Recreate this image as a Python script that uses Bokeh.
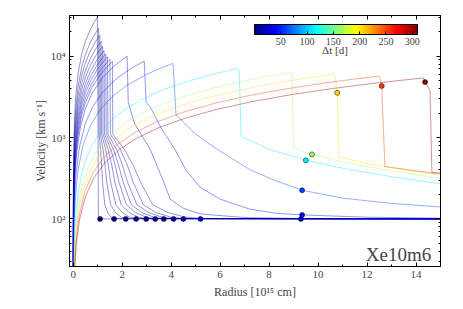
from bokeh.plotting import figure
from bokeh.models import (LinearColorMapper, ColorBar, LinearAxis, LogAxis, FixedTicker,
                          CustomJSTickFormatter, Label, Range1d, SingleIntervalTicker, LogTicker)
from bokeh.embed import file_html
from bokeh.resources import INLINE

# ---- data ----
dt_days = [3.8, 5.5, 7.0, 8.7, 10.5, 12.5, 14.5, 16.5, 19.0, 21.5, 25.5, 38.6, 58.0,
           110.0, 163.0, 205.0, 254.0, 306.0]

r_01 = [0.001, 0.003, 0.01, 0.03, 0.06, 0.1, 0.2, 0.35, 0.5, 0.7, 0.85, 0.99, 1.01, 1.03, 1.1, 15.0]
v_01 = [30, 91, 305, 914, 1830, 3050, 6090, 10660, 15230, 21320, 25890, 30150, 3000, 100, 100, 100]

r_02 = [0.0012, 0.003, 0.01, 0.03, 0.06, 0.1, 0.2, 0.35, 0.5, 0.7, 0.85, 1.04, 1.06, 1.12, 1.16, 1.2, 1.29, 1.41, 1.55, 1.67, 15.0]
v_02 = [25, 63, 210, 631, 1263, 2104, 4209, 7365, 10520, 14730, 17890, 21890, 1100, 710, 450, 283, 150, 120, 105, 101, 100]

r_03 = [0.0015, 0.003, 0.01, 0.03, 0.06, 0.1, 0.2, 0.35, 0.5, 0.7, 0.9, 1.09, 1.11, 1.22, 1.30, 1.37, 1.53, 1.72, 1.96, 2.15, 15.0]
v_03 = [25, 50, 165, 496, 992, 1653, 3307, 5787, 8267, 11570, 14880, 18020, 1100, 710, 450, 283, 150, 120, 105, 101, 100]

r_04 = [0.0019, 0.005, 0.01, 0.03, 0.06, 0.1, 0.2, 0.35, 0.5, 0.7, 0.9, 1.14, 1.16, 1.33, 1.44, 1.53, 1.74, 2.0, 2.31, 2.57, 15.0]
v_04 = [25, 67, 133, 399, 798, 1330, 2661, 4656, 6652, 9313, 11970, 15170, 1100, 710, 450, 283, 150, 120, 105, 101, 100]

r_05 = [0.0023, 0.005, 0.01, 0.03, 0.06, 0.1, 0.2, 0.35, 0.5, 0.7, 0.95, 1.2, 1.22, 1.43, 1.58, 1.7, 1.96, 2.28, 2.66, 2.98, 15.0]
v_05 = [25, 55, 110, 331, 661, 1102, 2205, 3858, 5512, 7716, 10470, 13230, 1100, 710, 450, 283, 150, 120, 105, 101, 100]

r_06 = [0.0027, 0.006, 0.01, 0.03, 0.06, 0.1, 0.2, 0.35, 0.5, 0.7, 0.95, 1.26, 1.28, 1.54, 1.72, 1.87, 2.17, 2.54, 2.98, 3.35, 15.0]
v_06 = [25, 56, 93, 278, 556, 926, 1852, 3241, 4630, 6481, 8796, 11670, 1100, 710, 450, 283, 150, 120, 105, 101, 100]

r_07 = [0.0031, 0.006, 0.01, 0.03, 0.06, 0.1, 0.2, 0.35, 0.5, 0.7, 1.0, 1.33, 1.35, 1.65, 1.86, 2.04, 2.37, 2.79, 3.29, 3.7, 15.0]
v_07 = [25, 48, 80, 239, 479, 798, 1596, 2794, 3991, 5587, 7982, 10620, 1100, 710, 450, 283, 150, 120, 105, 101, 100]

r_08 = [0.0036, 0.007, 0.015, 0.03, 0.06, 0.1, 0.2, 0.35, 0.5, 0.7, 1.0, 1.4, 1.42, 1.78, 2.02, 2.22, 2.6, 3.07, 3.63, 4.1, 15.0]
v_08 = [25, 49, 105, 210, 421, 702, 1403, 2455, 3508, 4911, 7015, 9821, 1100, 710, 450, 283, 150, 120, 105, 101, 100]

r_09 = [0.0041, 0.008, 0.015, 0.03, 0.06, 0.1, 0.2, 0.35, 0.5, 0.75, 1.05, 1.5, 1.52, 1.93, 2.22, 2.45, 2.86, 3.37, 3.99, 4.5, 15.0]
v_09 = [25, 49, 91, 183, 366, 609, 1218, 2132, 3046, 4569, 6397, 9138, 1100, 710, 450, 283, 150, 120, 105, 101, 100]

r_10 = [0.0046, 0.009, 0.015, 0.03, 0.06, 0.1, 0.2, 0.35, 0.5, 0.75, 1.1, 1.6, 1.62, 2.1, 2.46, 2.75, 3.24, 3.85, 4.59, 5.2, 15.0]
v_10 = [25, 48, 81, 161, 323, 538, 1077, 1884, 2692, 4037, 5921, 8613, 1100, 710, 450, 283, 150, 120, 105, 101, 100]

r_11 = [0.0055, 0.01, 0.02, 0.04, 0.08, 0.15, 0.3, 0.5, 0.8, 1.2, 1.7, 2.2, 2.25, 2.5, 3.15, 3.7, 3.96, 4.5, 5.2, 7.0, 9.3, 15.0]
v_11 = [25, 45, 91, 182, 363, 681, 1362, 2270, 3631, 5447, 7716, 9986, 2700, 1500, 710, 283, 175, 135, 115, 104, 101, 100]

r_12 = [0.008, 0.015, 0.03, 0.06, 0.12, 0.25, 0.5, 0.8, 1.2, 1.7, 2.3, 2.9, 2.98, 3.14, 3.6, 4.16, 4.6, 5.18, 6.0, 7.2, 8.3, 9.35, 12.0, 15.0]
v_12 = [24, 45, 90, 180, 360, 750, 1499, 2398, 3598, 5097, 6895, 8694, 2700, 2400, 1300, 710, 400, 245, 175, 132, 117, 112, 105, 102]

r_13 = [0.012, 0.025, 0.05, 0.1, 0.2, 0.4, 0.7, 1.1, 1.6, 2.2, 3.0, 3.6, 4.08, 4.2, 5.0, 5.9, 7.2, 8.2, 9.35, 11.0, 13.0, 15.0]
v_13 = [24, 50, 100, 200, 399, 798, 1397, 2196, 3194, 4391, 5988, 7186, 8144, 1900, 1100, 710, 405, 300, 225, 180, 155, 140]

r_14 = [0.024, 0.05, 0.1, 0.2, 0.4, 0.7, 1.0, 1.5, 2.0, 2.8, 3.6, 4.5, 5.5, 6.73, 6.78, 6.86, 8.04, 9.5, 11.0, 13.0, 15.0]
v_14 = [25, 53, 105, 210, 421, 736, 1052, 1578, 2104, 2946, 3787, 4734, 5786, 7080, 6500, 1030, 710, 525, 420, 330, 270]

r_15 = [0.035, 0.07, 0.15, 0.3, 0.6, 1.0, 1.5, 2.2, 3.0, 4.0, 5.0, 6.2, 7.5, 8.9, 8.93, 9.0, 9.75, 11.0, 13.0, 15.0]
v_15 = [25, 50, 107, 213, 426, 710, 1065, 1562, 2130, 2840, 3550, 4402, 5325, 6319, 6000, 740, 620, 500, 390, 315]

r_16 = [0.045, 0.09, 0.18, 0.35, 0.7, 1.1, 1.6, 2.3, 3.1, 4.0, 5.2, 6.5, 8.0, 9.3, 10.65, 10.7, 10.78, 10.86, 12.0, 13.5, 15.0]
v_16 = [25, 51, 102, 198, 396, 622, 904, 1300, 1752, 2260, 2938, 3673, 4520, 5255, 6017, 5600, 3550, 570, 480, 400, 345]

r_17 = [0.055, 0.11, 0.22, 0.45, 0.8, 1.2, 1.8, 2.5, 3.4, 4.5, 5.8, 7.2, 8.8, 10.6, 12.5, 12.6, 12.73, 14.0, 14.6, 15.0]
v_17 = [25, 50, 100, 205, 365, 547, 821, 1140, 1550, 2052, 2645, 3283, 4013, 4834, 5700, 4300, 440, 390, 370, 362]

r_18 = [0.066, 0.13, 0.26, 0.5, 0.85, 1.3, 1.9, 2.6, 3.5, 4.6, 5.9, 7.3, 8.9, 10.6, 12.4, 14.3, 14.37, 14.57, 14.65, 15.0]
v_18 = [25, 49, 98, 189, 321, 491, 718, 983, 1323, 1739, 2230, 2759, 3364, 4007, 4687, 5405, 4800, 3800, 370, 365]

# marked points (one per profile)
pt_r = [1.1, 1.67, 2.15, 2.57, 2.98, 3.35, 3.7, 4.1, 4.5, 5.2, 9.3, 9.35, 9.35, 9.5, 9.75, 10.78, 12.6, 14.37]
pt_v = [100, 100, 100, 100, 100, 100, 100, 100, 100, 100, 100, 112, 225, 525, 620, 3550, 4300, 4800]

cbar_ticks = [50, 100, 150, 200, 250, 300]
x_label = "Radius [10¹⁵ cm]"
y_label = "Velocity [km s⁻¹]"
model_name = "Xe10m6"

curves_r = [r_01, r_02, r_03, r_04, r_05, r_06, r_07, r_08, r_09, r_10, r_11, r_12, r_13, r_14, r_15, r_16, r_17, r_18]
curves_v = [v_01, v_02, v_03, v_04, v_05, v_06, v_07, v_08, v_09, v_10, v_11, v_12, v_13, v_14, v_15, v_16, v_17, v_18]

# ---- style ----
FONT = "Liberation Serif"
DT_LOW, DT_HIGH = 0.0, 310.0


def jet(x):
    x = min(max(x, 0.0), 1.0)
    r = min(max(1.5 - abs(4 * x - 3), 0.0), 1.0)
    g = min(max(1.5 - abs(4 * x - 2), 0.0), 1.0)
    b = min(max(1.5 - abs(4 * x - 1), 0.0), 1.0)
    return "#%02x%02x%02x" % (int(r * 255), int(g * 255), int(b * 255))


jet256 = [jet(i / 255.0) for i in range(256)]


def dt_color(dt):
    return jet((dt - DT_LOW) / (DT_HIGH - DT_LOW))


p = figure(width=455, height=301, y_axis_type="log",
           x_range=Range1d(-0.15, 15.0), y_range=Range1d(26, 31600),
           output_backend="svg", toolbar_location=None,
           min_border_left=69, min_border_right=15, min_border_top=15, min_border_bottom=33)
p.grid.visible = False
p.outline_line_color = "black"
p.outline_line_width = 1
p.background_fill_color = "white"

for rr, vv, dt in zip(curves_r, curves_v, dt_days):
    p.line(rr, vv, line_color=dt_color(dt), line_alpha=0.42, line_width=1)

p.scatter(pt_r, pt_v, size=5, fill_color=[dt_color(d) for d in dt_days],
          line_color="black", line_width=0.5)

# axes
p.xaxis.ticker = SingleIntervalTicker(interval=2, num_minor_ticks=2)
p.yaxis.ticker = LogTicker(num_minor_ticks=10)
sup = CustomJSTickFormatter(code="""
const e = Math.round(Math.log10(tick));
const s = {1:'\u00b9', 2:'\u00b2', 3:'\u00b3', 4:'\u2074', 5:'\u2075'};
return '10' + (s[e] || e);
""")
p.yaxis.formatter = sup
for ax in (p.xaxis[0], p.yaxis[0]):
    ax.major_tick_in = 4
    ax.major_tick_out = 0
    ax.minor_tick_in = 2
    ax.minor_tick_out = 0
    ax.major_label_text_font = FONT
    ax.major_label_text_font_size = "11px"
    ax.axis_label_text_font = FONT
    ax.axis_label_text_font_size = "12px"
    ax.axis_label_text_font_style = "normal"
    ax.axis_line_color = "black"
    ax.major_label_standoff = 4
    ax.axis_label_standoff = 4
p.yaxis.axis_label_standoff = 0
p.xaxis.axis_label = x_label
p.yaxis.axis_label = y_label

empty = CustomJSTickFormatter(code="return ''")
top = LinearAxis(ticker=SingleIntervalTicker(interval=2, num_minor_ticks=2), formatter=empty,
                 major_tick_in=4, major_tick_out=0, minor_tick_in=2, minor_tick_out=0,
                 major_label_text_font_size="0px", major_label_standoff=0)
p.add_layout(top, "above")
right = LogAxis(ticker=LogTicker(num_minor_ticks=10), formatter=empty,
                major_tick_in=4, major_tick_out=0, minor_tick_in=2, minor_tick_out=0,
                major_label_text_font_size="0px", major_label_standoff=0)
p.add_layout(right, "right")

mapper = LinearColorMapper(palette=jet256, low=DT_LOW, high=DT_HIGH)
cb = ColorBar(color_mapper=mapper, orientation="horizontal", location=(185, 219),
              width=163, height=10, padding=0, ticker=FixedTicker(ticks=cbar_ticks),
              major_label_text_font=FONT, major_label_text_font_size="10px",
              major_tick_line_color="black", major_tick_in=3, major_tick_out=0,
              bar_line_color="black", background_fill_alpha=0, label_standoff=3,
              border_line_color=None)
p.add_layout(cb)

p.add_layout(Label(x=10.69, y=11830, text="\u0394t [d]", text_align="center",
                   text_baseline="middle", text_font=FONT, text_font_size="11px"))
p.add_layout(Label(x=11.95, y=36.5, text=model_name, text_align="left",
                   text_baseline="alphabetic", text_font=FONT, text_font_size="19px"))

open("out.html", "w").write(file_html(p, INLINE))
